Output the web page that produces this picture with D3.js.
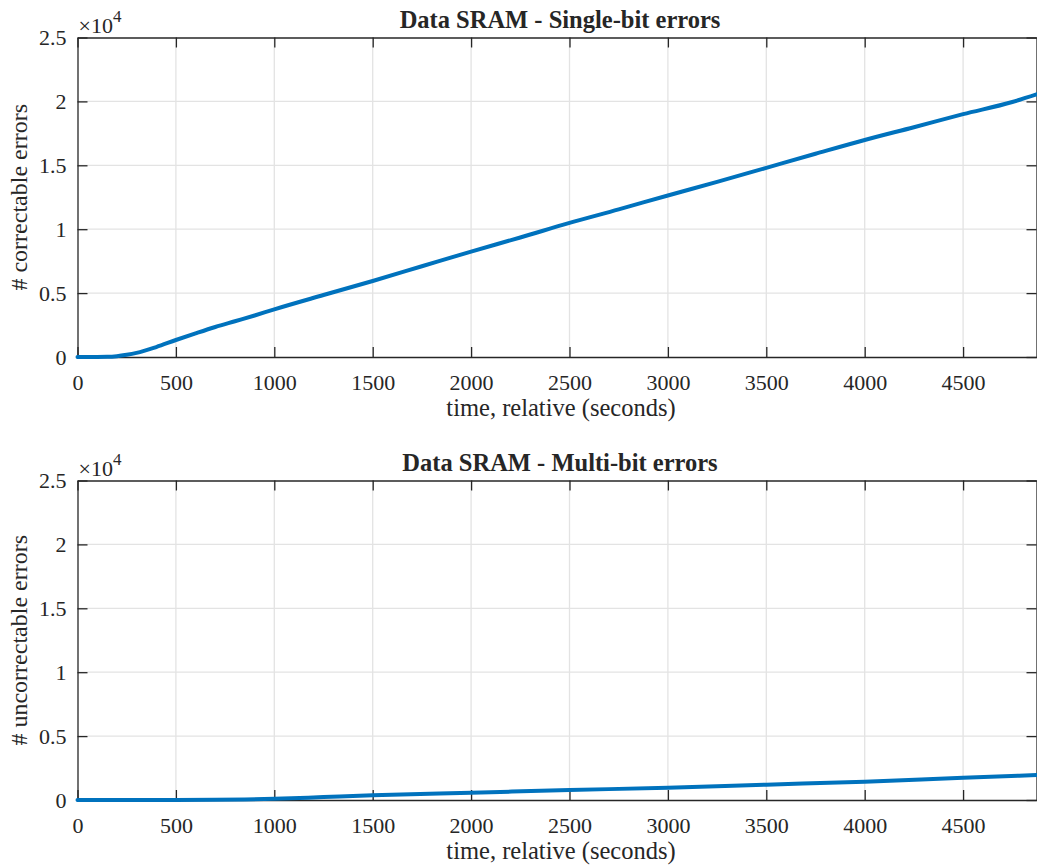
<!DOCTYPE html>
<html>
<head>
<meta charset="utf-8">
<script src="https://cdn.jsdelivr.net/npm/d3@7"></script>
<style>
  body { margin: 0; background: #fff; }
  svg { display: block; }
  text { font-family: "Liberation Serif", "Times New Roman", serif; fill: #262626; }
</style>
</head>
<body>
<div id="painting"></div>
<script>
// values (time in seconds, error counts)
var single_time = [0, 100, 150, 200, 250, 300, 400, 500, 600, 700, 800, 900, 1000, 1250, 1500, 1750, 2000, 2250, 2500, 2750, 3000, 3250, 3500, 3750, 4000, 4250, 4500, 4750, 4873];
var single_errs = [0, 0, 10, 60, 170, 320, 780, 1330, 1850, 2350, 2800, 3250, 3730, 4850, 5950, 7100, 8250, 9350, 10490, 11550, 12640, 13700, 14800, 15900, 16980, 17980, 19000, 19950, 20550];

var multi_time = [0, 500, 700, 850, 1000, 1250, 1500, 2000, 2500, 3000, 3500, 4000, 4500, 4873];
var multi_errs = [0, 0, 10, 40, 90, 230, 370, 570, 780, 960, 1200, 1430, 1740, 1950];

var x_ticks = [0, 500, 1000, 1500, 2000, 2500, 3000, 3500, 4000, 4500];
var y_ticks = [0, 5000, 10000, 15000, 20000, 25000];
var y_tick_labels = ["0", "0.5", "1", "1.5", "2", "2.5"];

var panels = [
  {title: "Data SRAM - Single-bit errors", ylabel: "# correctable errors", time: single_time, errs: single_errs, top: 37.5},
  {title: "Data SRAM - Multi-bit errors", ylabel: "# uncorrectable errors", time: multi_time, errs: multi_errs, top: 480.5}
];

var W = 1037, H = 865;
var left = 77.5, right = 1036.5, ph = 319.5;
var axisCol = "#262626";

var svg = d3.select("#painting").append("svg")
  .attr("width", W).attr("height", H);

var xScale = d3.scaleLinear().domain([0, 4873]).range([left, right]);

panels.forEach(function(p) {
  var yScale = d3.scaleLinear().domain([0, 25000]).range([p.top + ph, p.top]);
  var g = svg.append("g");

  // grid
  g.selectAll(".vg").data(x_ticks.slice(1)).enter().append("line")
    .attr("x1", function(d){ return xScale(d); }).attr("x2", function(d){ return xScale(d); })
    .attr("y1", p.top).attr("y2", p.top + ph)
    .attr("stroke", "#e3e3e3").attr("stroke-width", 1.3);
  g.selectAll(".hg").data(y_ticks.slice(1, -1)).enter().append("line")
    .attr("x1", left).attr("x2", right)
    .attr("y1", function(d){ return yScale(d); }).attr("y2", function(d){ return yScale(d); })
    .attr("stroke", "#e3e3e3").attr("stroke-width", 1.3);

  // axes (ticks inside, box on)
  var xb = g.append("g").attr("transform", "translate(0," + (p.top + ph) + ")")
    .call(d3.axisBottom(xScale).tickValues(x_ticks).tickSizeInner(-10).tickSizeOuter(0).tickPadding(17)
      .tickFormat(d3.format("d")));
  var xt = g.append("g").attr("transform", "translate(0," + p.top + ")")
    .call(d3.axisTop(xScale).tickValues(x_ticks).tickSizeInner(-10).tickSizeOuter(0).tickFormat(""));
  var yl = g.append("g").attr("transform", "translate(" + left + ",0)")
    .call(d3.axisLeft(yScale).tickValues(y_ticks).tickSizeInner(-10).tickSizeOuter(0).tickPadding(11)
      .tickFormat(function(d, i){ return y_tick_labels[i]; }));
  var yr = g.append("g").attr("transform", "translate(" + right + ",0)")
    .call(d3.axisRight(yScale).tickValues(y_ticks).tickSizeInner(-10).tickSizeOuter(0).tickFormat(""));

  [xb, xt, yl, yr].forEach(function(a) {
    a.select(".domain").attr("stroke", axisCol).attr("stroke-width", 1.3);
    a.selectAll(".tick line").attr("stroke", axisCol).attr("stroke-width", 1.3);
    a.selectAll(".tick text").attr("fill", axisCol).style("font-size", "22px")
      .style("font-family", "'Liberation Serif', serif");
  });

  // data line
  var pts = p.time.map(function(t, i){ return [t, p.errs[i]]; });
  g.append("path").datum(pts)
    .attr("fill", "none").attr("stroke", "#0072BD").attr("stroke-width", 4)
    .attr("stroke-linejoin", "round").attr("stroke-linecap", "round")
    .attr("d", d3.line().x(function(d){ return xScale(d[0]); }).y(function(d){ return yScale(d[1]); })
      .curve(d3.curveMonotoneX));

  // exponent label
  var ex = g.append("text").attr("x", left + 1).attr("y", p.top - 5).style("font-size", "22px");
  ex.append("tspan").text("\u00d710");
  ex.append("tspan").attr("dy", -11).style("font-size", "17px").text("4");

  // title
  g.append("text").attr("x", (left + right) / 2 + 3).attr("y", p.top - 10)
    .attr("text-anchor", "middle").style("font-size", "24.5px").style("font-weight", "bold")
    .attr("fill", "#000").text(p.title);

  // x label
  g.append("text").attr("x", (left + right) / 2 + 4).attr("y", p.top + ph + 59)
    .attr("text-anchor", "middle").style("font-size", "24.5px").text("time, relative (seconds)");

  // y label
  g.append("text").attr("transform", "translate(27," + (p.top + ph / 2) + ") rotate(-90)")
    .attr("text-anchor", "middle").style("font-size", "24px").text(p.ylabel);
});
</script>
</body>
</html>
